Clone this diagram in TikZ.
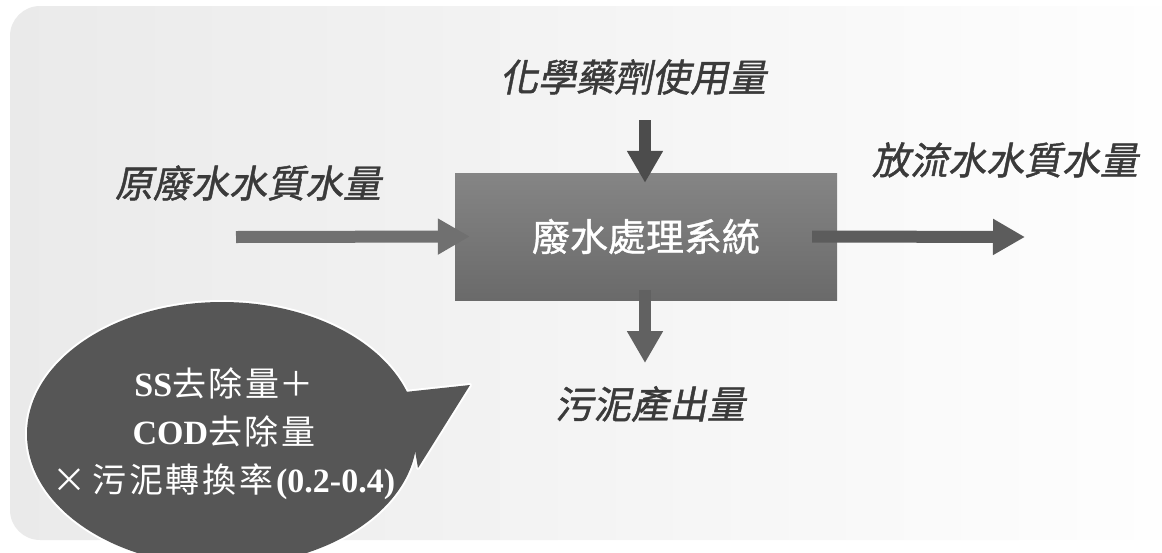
\documentclass[tikz,border=0pt]{standalone}
\usepackage{fontspec}
\setmainfont{Liberation Serif}
\newfontfamily\cjk{Noto Sans CJK TC}
\newfontfamily\cjkbox[FakeBold=1]{Noto Sans CJK TC}
\newfontfamily\cjkslant[FakeSlant=0.2,FakeBold=1.2]{Noto Sans CJK TC}
\newfontfamily\cjknote[LetterSpace=8]{Noto Sans CJK TC}
\usetikzlibrary{arrows.meta,shapes.geometric}
\definecolor{bggray}{HTML}{EAEAEA}
\definecolor{boxtop}{HTML}{858585}
\definecolor{boxbot}{HTML}{6A6A6A}
\definecolor{labelgray}{HTML}{3A3A3A}
\definecolor{bubblegray}{HTML}{565656}
\tikzset{
  flow/.style={line width=12pt,-{Triangle[length=32pt,width=34pt]}},
  quantity/.style={font=\cjkslant\fontsize{38}{40}\selectfont,text=labelgray,inner sep=0pt},
}

\begin{document}
\begin{tikzpicture}[x=1pt,y=-1pt]
\useasboundingbox (0,0) rectangle (1162,552);
\clip (0,0) rectangle (1162,552);

% to draw light background panel
\shade[left color=bggray,right color=white,rounded corners=30pt] (10,6) rectangle (1220,540);

% to draw treatment system
\node [rectangle,top color=boxtop,bottom color=boxbot,minimum width=382pt,minimum height=127pt,inner sep=0pt,
  text=white,font=\cjkbox\fontsize{38}{40}\selectfont] (system) at (646,236.5){廢水處理系統};

% to write quantities
\node [quantity] (chem) at (633,77){化學藥劑使用量};
\node [quantity] (raw) at (248,183){原廢水水質水量};
\node [quantity] (effluent) at (1005,160){放流水水質水量};
\node [quantity] (sludge) at (650,404){污泥產出量};

% free ends of arrows
\coordinate (chemstart) at (645,120);
\coordinate (rawstart) at (236,237);
\coordinate (effend) at (1025,237);
\coordinate (sludgeend) at (645,363);

% to draw arrows
\draw [flow,draw=black!70,fill=black!70] (chemstart) -- ([xshift=-1pt,yshift=-10pt]system.north);
\draw [flow,draw=black!56,fill=black!56] (rawstart) -- ([xshift=15pt]system.west);
\draw [flow,draw=black!64,fill=black!64] ([xshift=-25pt]system.east) -- (effend);
\draw [flow,draw=black!62,fill=black!62] ([xshift=-1pt,yshift=10pt]system.south) -- (sludgeend);

% speech bubble
\coordinate (tailtop) at (405,392);
\coordinate (tailtip) at (470,385);
\coordinate (tailbot) at (418,468);
\node [ellipse,draw=white,line width=4pt,minimum width=390pt,minimum height=264pt] (bubble) at (222,434){};
\draw [white,line width=4pt,line join=round] (tailtop) -- (tailtip) -- (tailbot) -- cycle;
\fill [bubblegray] (bubble.center) ellipse [x radius=195pt,y radius=132pt];
\fill [bubblegray] (tailtop) -- (tailtip) -- (tailbot) -- cycle;
\node [text=white,align=center,inner sep=0pt,font=\fontsize{34}{48}\selectfont] (rate) at (224,434){%
  \textbf{SS}{\cjknote 去除量}{\cjk ＋}\\
  \textbf{COD}{\cjknote 去除量}\\
  {\cjk ×\,}{\cjknote 污泥轉換率}\textbf{(0.2-0.4)}};
\end{tikzpicture}
\end{document}
